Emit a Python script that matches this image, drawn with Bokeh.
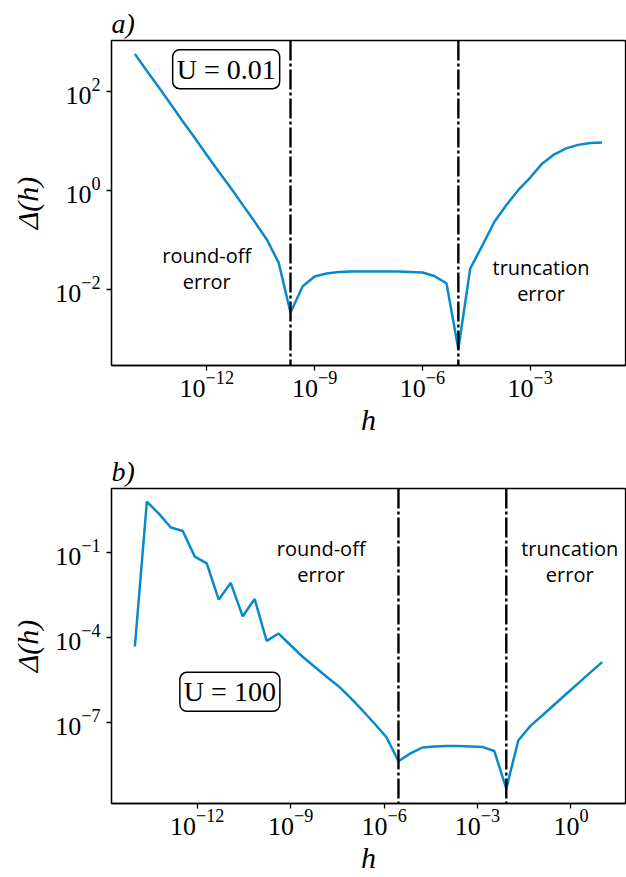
from bokeh.plotting import figure
from bokeh.models import Span, Label, FixedTicker, Range1d, LogTickFormatter
from bokeh.layouts import column
from bokeh.embed import file_html
from bokeh.resources import INLINE

# ---------------- data ----------------
# panel a (U = 0.01)
h_exp_a = [-14.0, -13.67, -13.33, -13.0, -12.67, -12.33, -12.0, -11.67, -11.33, -11.0,
           -10.67, -10.33, -10.0, -9.67, -9.33, -9.0, -8.67, -8.33, -8.0, -7.67,
           -7.33, -7.0, -6.67, -6.33, -6.0, -5.67, -5.33, -5.0, -4.67, -4.33,
           -4.0, -3.67, -3.33, -3.0, -2.67, -2.33, -2.0, -1.67, -1.33, -1.0]
delta_a = [575, 263, 120, 55, 25, 11.5, 5.2, 2.4, 1.12, 0.51,
           0.234, 0.102, 0.0347, 0.00339, 0.0115, 0.0182, 0.0209, 0.0224, 0.0229, 0.0229,
           0.0229, 0.0229, 0.0229, 0.0224, 0.0219, 0.0186, 0.0132, 0.000617, 0.0263, 0.0776,
           0.229, 0.50, 1.02, 1.82, 3.47, 5.37, 7.08, 8.32, 9.12, 9.33]
vlines_a_idx = [13, 27]

# panel b (U = 100)
h_exp_b = [-14.0, -13.615, -13.231, -12.846, -12.462, -12.077, -11.692, -11.308, -10.923, -10.538,
           -10.154, -9.769, -9.385, -9.0, -8.615, -8.231, -7.846, -7.462, -7.077, -6.692,
           -6.308, -5.923, -5.538, -5.154, -4.769, -4.385, -4.0, -3.615, -3.231, -2.846,
           -2.462, -2.077, -1.692, -1.308, -0.923, -0.538, -0.154, 0.231, 0.615, 1.0]
delta_b = [4.7e-5, 6.2, 2.34, 0.76, 0.575, 0.0708, 0.0407, 0.00214, 0.00832, 5.5e-4,
           2.24e-3, 7.4e-5, 1.35e-4, 5.2e-5, 2.04e-5, 9.1e-6, 4.0e-6, 1.86e-6, 7.2e-7, 2.57e-7,
           8.9e-8, 2.9e-8, 4.1e-9, 7.8e-9, 1.26e-8, 1.38e-8, 1.41e-8, 1.41e-8, 1.38e-8, 1.32e-8,
           9.5e-9, 4.4e-10, 2.24e-8, 7.2e-8, 1.7e-7, 4.1e-7, 9.8e-7, 2.34e-6, 5.6e-6, 1.32e-5]
vlines_b_idx = [22, 31]

xticks_a = [1e-12, 1e-9, 1e-6, 1e-3]
yticks_a = [1e-2, 1e0, 1e2]
xticks_b = [1e-12, 1e-9, 1e-6, 1e-3, 1e0]
yticks_b = [1e-7, 1e-4, 1e-1]

LINE_COLOR = "#0a88cc"
SERIF = "Liberation Serif"
SANS = "Open Sans"


def make_panel(title, h_exp, delta, vidx, xticks, yticks, xr, yr, height, top, bottom,
               box_text, box_pos, notes):
    h = [10 ** e for e in h_exp]
    p = figure(width=626, height=height, x_axis_type="log", y_axis_type="log",
               x_range=Range1d(10 ** xr[0], 10 ** xr[1]), y_range=Range1d(10 ** yr[0], 10 ** yr[1]),
               output_backend="svg", toolbar_location=None,
               min_border_left=111, min_border_right=1, min_border_top=top, min_border_bottom=bottom)
    p.title.text = title
    p.title.align = "left"
    p.title.text_font = SERIF
    p.title.text_font_style = "italic"
    p.title.text_font_size = "28px"
    p.title.text_color = "black"
    p.title.standoff = 4
    p.grid.visible = False
    p.outline_line_color = "black"
    p.outline_line_width = 1.3
    p.outline_line_alpha = 1

    for ax, ticks in ((p.xaxis[0], xticks), (p.yaxis[0], yticks)):
        ax.ticker = FixedTicker(ticks=ticks, minor_ticks=[])
        ax.formatter = LogTickFormatter()
        ax.major_label_text_font = SERIF
        ax.major_label_text_font_size = "26px"
        ax.major_label_text_color = "black"
        ax.axis_line_color = "black"
        ax.axis_line_width = 1.3
        ax.major_tick_line_color = "black"
        ax.major_tick_line_width = 1.3
        ax.major_tick_out = 5
        ax.major_tick_in = 0
        ax.axis_label_text_font = SERIF
        ax.axis_label_text_font_size = "30px"
        ax.axis_label_text_font_style = "italic"
        ax.axis_label_text_color = "black"
    p.xaxis.axis_label = "h"
    p.yaxis.axis_label = "Δ(h)"
    p.xaxis.major_label_standoff = 1
    p.yaxis.major_label_standoff = 6
    p.xaxis.axis_label_standoff = 3
    p.yaxis.axis_label_standoff = 8

    for i in vidx:
        p.add_layout(Span(location=h[i], dimension="height", line_color="black",
                          line_width=2.4, line_dash="20 3 3 3"))

    p.line(h, delta, line_color=LINE_COLOR, line_width=2.5)

    p.add_layout(Label(x=10 ** box_pos[0], y=10 ** box_pos[1], text=box_text,
                       text_font=SERIF, text_font_size="28px", text_color="black",
                       text_align="center", text_baseline="middle",
                       background_fill_color="white", border_line_color="black",
                       border_line_width=1.5, border_radius=7, padding=4))
    for (lx, ly, txt) in notes:
        p.add_layout(Label(x=10 ** lx, y=10 ** ly, text=txt, text_font=SANS,
                           text_font_size="20px", text_color="black",
                           text_align="center", text_baseline="middle",
                           text_line_height=0.94))
    return p


pa = make_panel("a)", h_exp_a, delta_a, vlines_a_idx, xticks_a, yticks_a,
                (-14.65, -0.35), (-3.54, 3.03), 440, 40, 75,
                "U = 0.01", (-11.46, 2.45),
                [(-12.0, -1.58, "round-off\nerror"), (-2.7, -1.82, "truncation\nerror")])
pb = make_panel("b)", h_exp_b, delta_b, vlines_b_idx, xticks_b, yticks_b,
                (-14.75, 1.75), (-9.88, 1.26), 436, 48, 63,
                "U = 100", (-10.95, -5.93),
                [(-8.02, -1.32, "round-off\nerror"), (-0.04, -1.32, "truncation\nerror")])

layout = column(pa, pb)
open("out.html", "w").write(file_html(layout, INLINE))
